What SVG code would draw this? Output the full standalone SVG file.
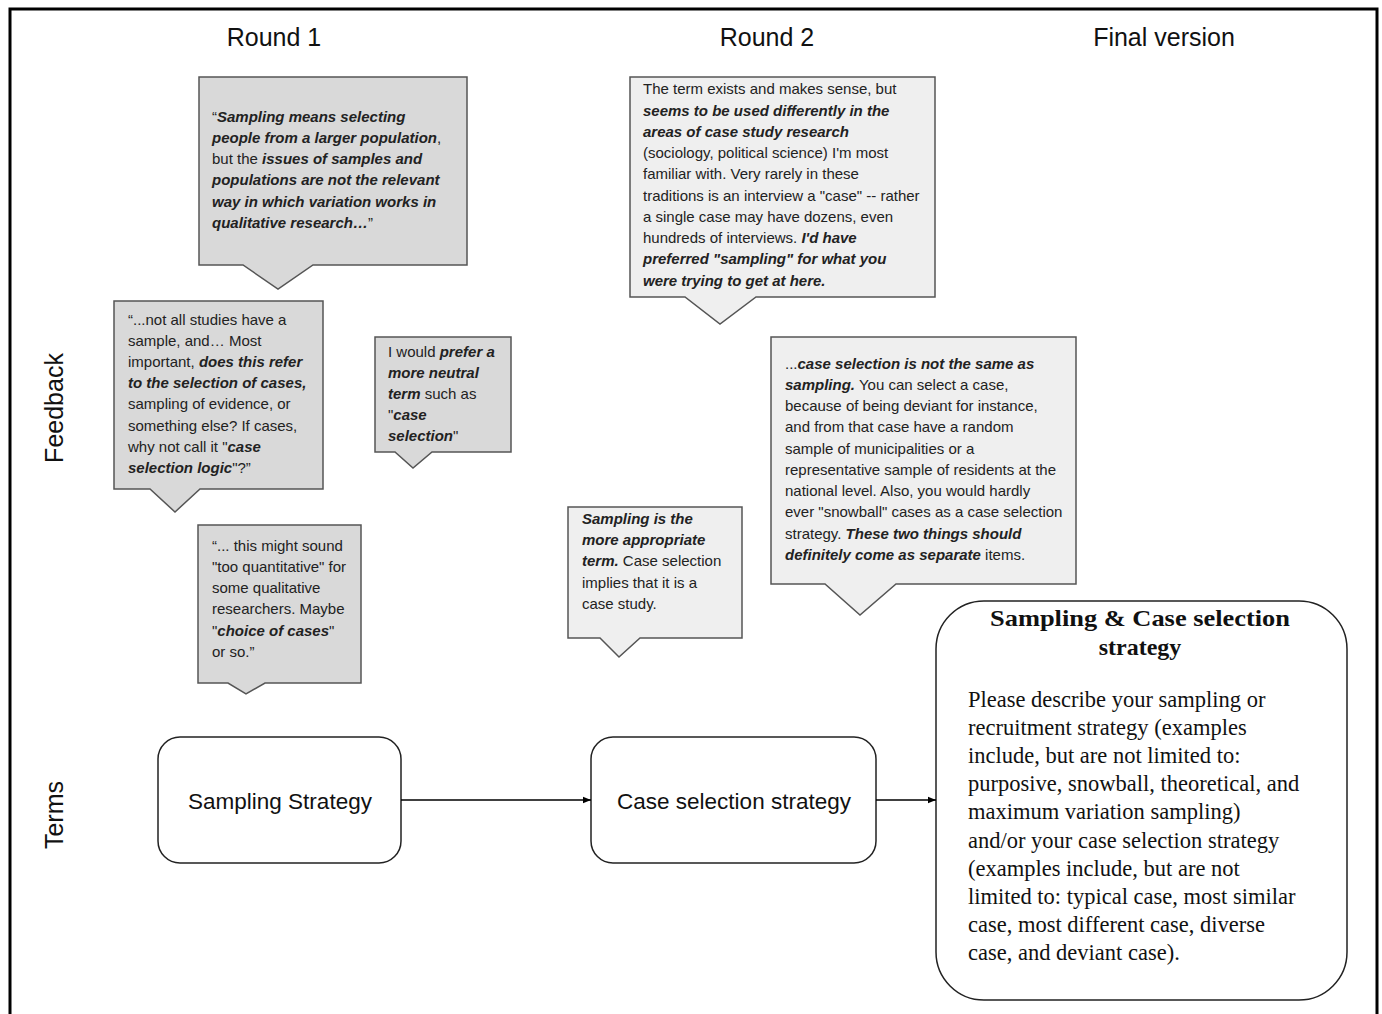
<svg xmlns="http://www.w3.org/2000/svg" width="1382" height="1014" viewBox="0 0 1382 1014">
<defs>
<marker id="ah" viewBox="0 0 10 10" refX="10" refY="5" markerWidth="8" markerHeight="8" markerUnits="userSpaceOnUse" orient="auto">
<path d="M0,1 L10,5 L0,9 Z" fill="#000"/>
</marker>
</defs>
<style>
.hd{font-family:"Liberation Sans",Arial,sans-serif;font-size:25px;fill:#111;}
.ct{font-family:"Liberation Sans",Arial,sans-serif;font-size:15px;fill:#222;}
.bi{font-weight:bold;font-style:italic;}
.dk{fill:#d9d9d9;stroke:#555;stroke-width:1.5;}
.lt{fill:#efefef;stroke:#555;stroke-width:1.5;}
.term{fill:#fff;stroke:#222;stroke-width:1.5;}
.tt{font-family:"Liberation Sans",Arial,sans-serif;font-size:22.5px;fill:#111;text-anchor:middle;}
.st{font-family:"Liberation Serif","Times New Roman",serif;fill:#111;}
.conn{stroke:#000;stroke-width:1.5;fill:none;}
</style>
<rect x="0" y="0" width="1382" height="1014" fill="#fff"/>
<path d="M10,1014 V9 H1377 V1014" fill="none" stroke="#000" stroke-width="3"/>

<g id="headings">
<text class="hd" x="274" y="46" text-anchor="middle">Round 1</text>
<text class="hd" x="767" y="46" text-anchor="middle">Round 2</text>
<text class="hd" x="1164" y="46" text-anchor="middle">Final version</text>
<text class="hd" transform="translate(63,408) rotate(-90)" text-anchor="middle">Feedback</text>
<text class="hd" transform="translate(63,815) rotate(-90)" text-anchor="middle">Terms</text>
</g>

<g id="callout-r1-a">
<path class="dk" d="M199,77 H467 V265 H313 L278,289 L243,265 H199 Z"/>
<text class="ct" x="212" y="122">“<tspan class="bi">Sampling means selecting</tspan></text>
<text class="ct" x="212" y="143"><tspan class="bi">people from a larger population</tspan>,</text>
<text class="ct" x="212" y="164">but the <tspan class="bi">issues of samples and</tspan></text>
<text class="ct" x="212" y="185"><tspan class="bi">populations are not the relevant</tspan></text>
<text class="ct" x="212" y="207"><tspan class="bi">way in which variation works in</tspan></text>
<text class="ct" x="212" y="228"><tspan class="bi">qualitative research…</tspan>”</text>
</g>

<g id="callout-r1-b">
<path class="dk" d="M114,301 H323 V489 H200 L175,512 L150,489 H114 Z"/>
<text class="ct" x="128" y="325">“...not all studies have a</text>
<text class="ct" x="128" y="346">sample, and… Most</text>
<text class="ct" x="128" y="367">important, <tspan class="bi">does this refer</tspan></text>
<text class="ct" x="128" y="388"><tspan class="bi">to the selection of cases,</tspan></text>
<text class="ct" x="128" y="409">sampling of evidence, or</text>
<text class="ct" x="128" y="431">something else? If cases,</text>
<text class="ct" x="128" y="452">why not call it "<tspan class="bi">case</tspan></text>
<text class="ct" x="128" y="473"><tspan class="bi">selection logic</tspan>"?”</text>
</g>

<g id="callout-r1-c">
<path class="dk" d="M375,337 H511 V452 H432 L413,468 L395,452 H375 Z"/>
<text class="ct" x="388" y="357">I would <tspan class="bi">prefer a</tspan></text>
<text class="ct" x="388" y="378"><tspan class="bi">more neutral</tspan></text>
<text class="ct" x="388" y="399"><tspan class="bi">term</tspan> such as</text>
<text class="ct" x="388" y="420">"<tspan class="bi">case</tspan></text>
<text class="ct" x="388" y="441"><tspan class="bi">selection</tspan>"</text>
</g>

<g id="callout-r1-d">
<path class="dk" d="M198,525 H361 V683 H265 L246,694 L228,683 H198 Z"/>
<text class="ct" x="212" y="551">“... this might sound</text>
<text class="ct" x="212" y="572">"too quantitative" for</text>
<text class="ct" x="212" y="593">some qualitative</text>
<text class="ct" x="212" y="614">researchers. Maybe</text>
<text class="ct" x="212" y="636">"<tspan class="bi">choice of cases</tspan>"</text>
<text class="ct" x="212" y="657">or so.”</text>
</g>

<g id="callout-r2-a">
<path class="lt" d="M630,77 H935 V297 H756 L720,324 L685,297 H630 Z"/>
<text class="ct" x="643" y="94">The term exists and makes sense, but</text>
<text class="ct" x="643" y="116"><tspan class="bi">seems to be used differently in the</tspan></text>
<text class="ct" x="643" y="137"><tspan class="bi">areas of case study research</tspan></text>
<text class="ct" x="643" y="158">(sociology, political science) I'm most</text>
<text class="ct" x="643" y="179">familiar with. Very rarely in these</text>
<text class="ct" x="643" y="201">traditions is an interview a "case" -- rather</text>
<text class="ct" x="643" y="222">a single case may have dozens, even</text>
<text class="ct" x="643" y="243">hundreds of interviews. <tspan class="bi">I'd have</tspan></text>
<text class="ct" x="643" y="264"><tspan class="bi">preferred "sampling" for what you</tspan></text>
<text class="ct" x="643" y="286"><tspan class="bi">were trying to get at here.</tspan></text>
</g>

<g id="callout-r2-b">
<path class="lt" d="M771,337 H1076 V584 H896 L860,615 L825,584 H771 Z"/>
<text class="ct" x="785" y="369">...<tspan class="bi">case selection is not the same as</tspan></text>
<text class="ct" x="785" y="390"><tspan class="bi">sampling.</tspan> You can select a case,</text>
<text class="ct" x="785" y="411">because of being deviant for instance,</text>
<text class="ct" x="785" y="432">and from that case have a random</text>
<text class="ct" x="785" y="454">sample of municipalities or a</text>
<text class="ct" x="785" y="475">representative sample of residents at the</text>
<text class="ct" x="785" y="496">national level. Also, you would hardly</text>
<text class="ct" x="785" y="517">ever "snowball" cases as a case selection</text>
<text class="ct" x="785" y="539">strategy. <tspan class="bi">These two things should</tspan></text>
<text class="ct" x="785" y="560"><tspan class="bi">definitely come as separate</tspan> items.</text>
</g>

<g id="callout-r2-c">
<path class="lt" d="M568,507 H742 V638 H640 L619,657 L600,638 H568 Z"/>
<text class="ct" x="582" y="524"><tspan class="bi">Sampling is the</tspan></text>
<text class="ct" x="582" y="545"><tspan class="bi">more appropriate</tspan></text>
<text class="ct" x="582" y="566"><tspan class="bi">term.</tspan> Case selection</text>
<text class="ct" x="582" y="588">implies that it is a</text>
<text class="ct" x="582" y="609">case study.</text>
</g>

<g id="term-sampling">
<rect class="term" x="158" y="737" width="243" height="126" rx="22"/>
<text class="tt" x="280" y="809">Sampling Strategy</text>
</g>

<g id="term-case">
<rect class="term" x="591" y="737" width="285" height="126" rx="22"/>
<text class="tt" x="734" y="809">Case selection strategy</text>
</g>

<g id="term-final">
<rect class="term" x="936" y="601" width="411" height="399" rx="48"/>
<text class="st" x="1140" y="626" text-anchor="middle" font-size="24" font-weight="bold" textLength="300" lengthAdjust="spacingAndGlyphs">Sampling &amp; Case selection</text>
<text class="st" x="1140" y="655" text-anchor="middle" font-size="24" font-weight="bold">strategy</text>
<g class="st" font-size="22.5">
<text x="968" y="707">Please describe your sampling or</text>
<text x="968" y="735">recruitment strategy (examples</text>
<text x="968" y="763">include, but are not limited to:</text>
<text x="968" y="791">purposive, snowball, theoretical, and</text>
<text x="968" y="819">maximum variation sampling)</text>
<text x="968" y="848">and/or your case selection strategy</text>
<text x="968" y="876">(examples include, but are not</text>
<text x="968" y="904">limited to: typical case, most similar</text>
<text x="968" y="932">case, most different case, diverse</text>
<text x="968" y="960">case, and deviant case).</text>
</g>
</g>

<g id="connectors">
<line class="conn" x1="401" y1="800" x2="591" y2="800" marker-end="url(#ah)"/>
<line class="conn" x1="876" y1="800" x2="936" y2="800" marker-end="url(#ah)"/>
</g>
</svg>
